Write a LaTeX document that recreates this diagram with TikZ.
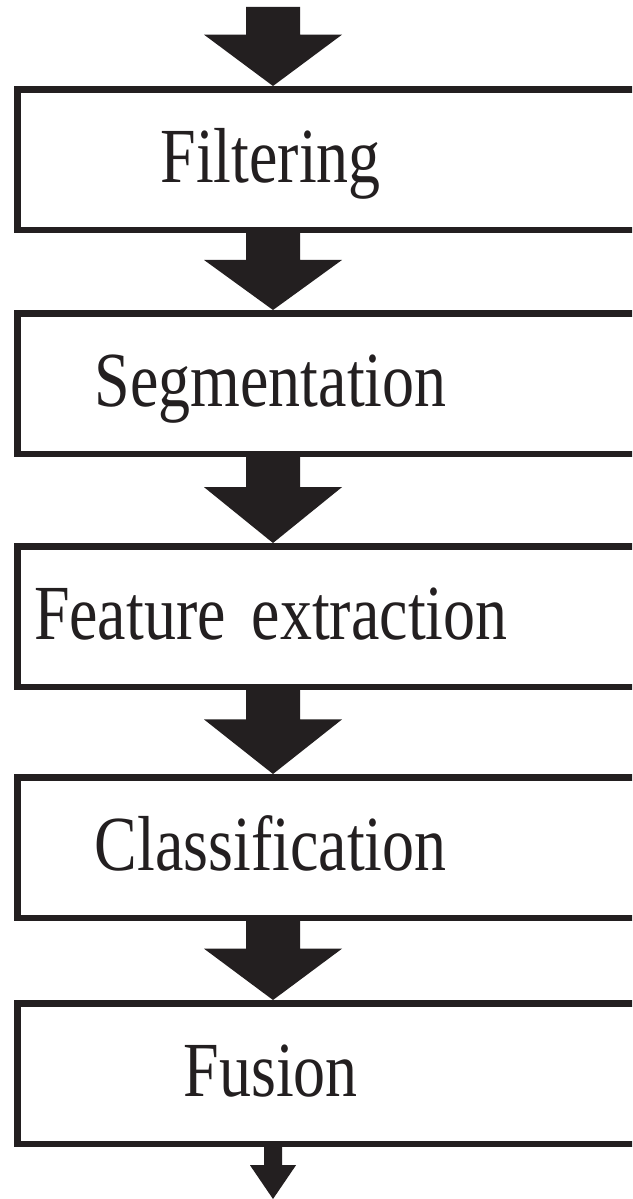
\documentclass[tikz,border=0pt]{standalone}
\usepackage{fontspec}
\usetikzlibrary{positioning, calc}
\newfontfamily\stagefont[FakeStretch=0.82]{Liberation Serif}
\definecolor{inkDark}{HTML}{231F20}
\tikzset{
  stage/.style={rectangle, draw=inkDark, line width=6.5pt, fill=white,
                text=inkDark, font=\stagefont\fontsize{78}{90}\selectfont,
                text width=640pt, align=left, inner xsep=0pt, inner ysep=0pt,
                minimum height=140.5pt, text height=60pt, text depth=14pt},
  flowFill/.style={fill=inkDark},
}
% label sits on the arrow axis, the box runs on past the right margin
\newcommand{\stagelabel}[1]{\noindent\makebox[507pt]{#1}}
% block arrow: #1 start, #2 tip, #3 half shaft width, #4 half head width
\newcommand{\blockarrow}[4]{%
  \fill[flowFill] let \p1=(#1), \p2=(#2), \p3=($(\p1)!0.35!(\p2)$) in
    (\x2-#3,\y1) -- (\x2-#3,\y3) -- (\x2-#4,\y3) -- (\p2)
    -- (\x2+#4,\y3) -- (\x2+#3,\y3) -- (\x2+#3,\y1) -- cycle;}

\begin{document}
\begin{tikzpicture}[x=1pt, y=-1pt]
  \useasboundingbox (0,0) rectangle (632,1199);
  \clip (0,0) rectangle (632,1199);
  \fill[white] (0,0) rectangle (632,1199);
  \coordinate (in) at (273,7);
  \coordinate (out) at (273,1199);
  % processing stages
  \node[stage, anchor=north west] (filt) at (14,86) {\stagelabel{Filtering}};
  \node[stage, below=77pt of filt] (seg) {\stagelabel{Segmentation}};
  \node[stage, below=86pt of seg] (feat) {\stagelabel{Feature extraction}};
  \node[stage, below=84pt of feat] (class) {\stagelabel{Classification}};
  \node[stage, below=79pt of class] (fus) {\stagelabel{Fusion}};
  % arrows between stages
  \blockarrow{in}{filt.north -| in}{27pt}{69pt}
  \blockarrow{filt.south -| in}{seg.north -| in}{27pt}{69pt}
  \blockarrow{seg.south -| in}{feat.north -| in}{27pt}{69pt}
  \blockarrow{feat.south -| in}{class.north -| in}{27pt}{69pt}
  \blockarrow{class.south -| in}{fus.north -| in}{27pt}{69pt}
  \blockarrow{fus.south -| in}{out}{9pt}{23pt}
\end{tikzpicture}
\end{document}
